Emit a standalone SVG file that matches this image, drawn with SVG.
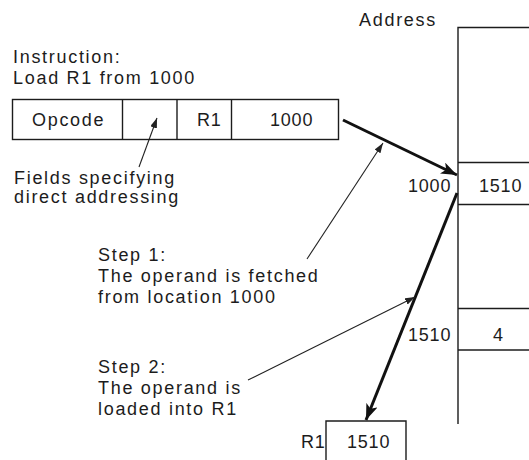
<svg xmlns="http://www.w3.org/2000/svg" width="529" height="460" viewBox="0 0 529 460">
  <defs>
    <style>
      text { font-family: "Liberation Sans", Arial, Helvetica, sans-serif; font-size: 18px; fill: #1c1c1c; letter-spacing: 1.7px; }
      text.num { letter-spacing: 0.8px; }
      .box { fill: none; stroke: #1c1c1c; stroke-width: 1.4; }
      .thick { fill: none; stroke: #111; stroke-width: 3; }
      .thin { fill: none; stroke: #222; stroke-width: 1.1; }
    </style>
    <marker id="headBig" markerUnits="userSpaceOnUse" markerWidth="18" markerHeight="12" refX="16" refY="6" orient="auto">
      <path d="M0,0 L16,6 L0,12 L4,6 Z" fill="#111"/>
    </marker>
    <marker id="headSmall" markerUnits="userSpaceOnUse" markerWidth="11" markerHeight="7" refX="10" refY="3.5" orient="auto">
      <path d="M0,0 L10,3.5 L0,7 Z" fill="#222"/>
    </marker>
  </defs>

  <!-- instruction header -->
  <g id="instruction-label">
    <text x="13" y="63">Instruction:</text>
    <text x="13" y="84">Load R1 from 1000</text>
  </g>

  <!-- instruction word with its four fields -->
  <g id="instruction-word">
    <rect class="box" x="12.5" y="99.5" width="326" height="40"/>
    <line class="box" x1="122.5" y1="99.5" x2="122.5" y2="139.5"/>
    <line class="box" x1="177" y1="99.5" x2="177" y2="139.5"/>
    <line class="box" x1="231.5" y1="99.5" x2="231.5" y2="139.5"/>
    <text x="32" y="126">Opcode</text>
    <text class="num" x="197" y="126">R1</text>
    <text class="num" x="270" y="126">1000</text>
  </g>

  <g id="fields-note">
    <text x="14" y="184">Fields specifying</text>
    <text x="14" y="203">direct addressing</text>
  </g>

  <!-- memory column -->
  <g id="memory">
    <text x="359" y="26">Address</text>
    <polyline class="box" points="458,424 458,27.5 535,27.5"/>
    <line class="box" x1="458" y1="162.5" x2="535" y2="162.5"/>
    <line class="box" x1="458" y1="204.5" x2="535" y2="204.5"/>
    <line class="box" x1="458" y1="308.5" x2="535" y2="308.5"/>
    <line class="box" x1="458" y1="350" x2="535" y2="350"/>
    <text class="num" x="408" y="192">1000</text>
    <text class="num" x="479" y="192">1510</text>
    <text class="num" x="408" y="341">1510</text>
    <text class="num" x="493" y="341">4</text>
  </g>

  <g id="step1-note">
    <text x="98" y="261">Step 1:</text>
    <text x="98" y="282">The operand is fetched</text>
    <text x="98" y="303">from location 1000</text>
  </g>

  <g id="step2-note">
    <text x="98" y="373">Step 2:</text>
    <text x="98" y="394">The operand is</text>
    <text x="98" y="415">loaded into R1</text>
  </g>

  <!-- register R1 -->
  <g id="register-r1">
    <text class="num" x="301" y="448">R1</text>
    <polyline class="box" points="326,470 326,421 406,421 406,470"/>
    <text class="num" x="347" y="448">1510</text>
  </g>

  <!-- connectors -->
  <g id="connectors">
    <line class="thick" x1="343" y1="120" x2="457" y2="175" marker-end="url(#headBig)"/>
    <line class="thick" x1="457" y1="193" x2="366" y2="420" marker-end="url(#headBig)"/>
    <line class="thin" x1="139" y1="167" x2="157" y2="118" marker-end="url(#headSmall)"/>
    <line class="thin" x1="307" y1="259" x2="383" y2="143" marker-end="url(#headSmall)"/>
    <line class="thin" x1="248" y1="380" x2="415" y2="297" marker-end="url(#headSmall)"/>
  </g>
</svg>
